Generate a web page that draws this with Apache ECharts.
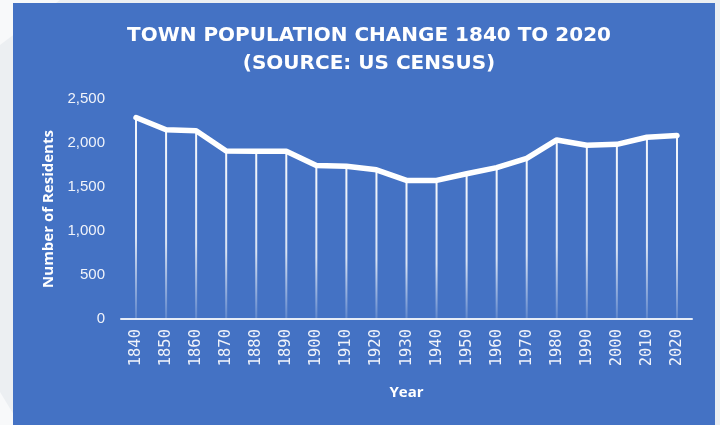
<!DOCTYPE html>
<html>
<head>
<meta charset="utf-8">
<script src="https://cdn.jsdelivr.net/npm/echarts@6/dist/echarts.min.js"></script>
<style>
  html, body { margin: 0; padding: 0; background: #ECEFF2; }
  #chart { width: 720px; height: 425px; }
</style>
</head>
<body>
<div id="chart"></div>
<script>
// Census years and town population counts
const years = ['1840','1850','1860','1870','1880','1890','1900','1910','1920','1930',
               '1940','1950','1960','1970','1980','1990','2000','2010','2020'];
const residents = [2290, 2150, 2140, 1910, 1905, 1905, 1745, 1735, 1695, 1575,
                   1575, 1650, 1720, 1825, 2035, 1975, 1985, 2065, 2085];
const yTicks = [0, 500, 1000, 1500, 2000, 2500];

const chart = echarts.init(document.getElementById('chart'), null, { renderer: 'canvas' });

const fmt = v => v.toLocaleString('en-US');

chart.setOption({
  animation: false,
  backgroundColor: '#ECEFF2',
  graphic: [
    // pale page decorations around the card
    { type: 'polygon', z: -10, shape: { points: [[0,0],[60,0],[0,45]] }, style: { fill: '#F8F9FA' } },
    { type: 'polygon', z: -10, shape: { points: [[0,392],[20,425],[0,425]] }, style: { fill: '#F8F9FA' } },
    // blue chart card
    { type: 'rect', z: -5, shape: { x: 13, y: 3, width: 702, height: 422 }, style: { fill: '#4472C4' } }
  ],
  title: {
    text: 'TOWN POPULATION CHANGE 1840 TO 2020\n(SOURCE: US CENSUS)',
    left: 364,
    textAlign: 'center',
    top: 17,
    textStyle: {
      color: '#FFFFFF',
      fontFamily: 'DejaVu Sans',
      fontWeight: 'bold',
      fontSize: 20,
      lineHeight: 28
    }
  },
  grid: { left: 121, right: 28, top: 99, bottom: 106, containLabel: false },
  xAxis: {
    type: 'category',
    data: years,
    boundaryGap: true,
    name: 'Year',
    nameLocation: 'middle',
    nameGap: 66,
    nameTextStyle: { color: '#FFFFFF', fontFamily: 'Open Sans', fontWeight: 'bold', fontSize: 15 },
    axisLine: { lineStyle: { color: '#E6ECF7', width: 2 } },
    axisTick: { show: false },
    axisLabel: {
      rotate: 90,
      margin: 10,
      color: '#F0F3FA',
      fontFamily: 'DejaVu Sans Mono',
      fontSize: 15.5,
      interval: 0
    },
    splitLine: { show: false }
  },
  yAxis: {
    type: 'value',
    min: 0,
    max: 2500,
    interval: 500,
    name: 'Number of Residents',
    nameLocation: 'middle',
    nameGap: 63,
    nameTextStyle: { color: '#FFFFFF', fontFamily: 'Open Sans', fontWeight: 'bold', fontSize: 15 },
    axisLine: { show: false },
    axisTick: { show: false },
    splitLine: { show: false },
    axisLabel: {
      color: '#F0F3FA',
      fontFamily: 'Liberation Sans',
      fontSize: 15,
      margin: 16,
      formatter: v => yTicks.includes(v) ? fmt(v) : ''
    }
  },
  series: [
    {
      // drop lines from each point to the axis
      type: 'bar',
      data: residents,
      barWidth: 2,
      silent: true,
      itemStyle: {
        color: new echarts.graphic.LinearGradient(0, 0, 0, 1, [
          { offset: 0, color: 'rgba(255,255,255,0.95)' },
          { offset: 0.6, color: 'rgba(255,255,255,0.8)' },
          { offset: 1, color: 'rgba(255,255,255,0.15)' }
        ])
      }
    },
    {
      type: 'line',
      data: residents,
      showSymbol: false,
      symbol: 'none',
      lineStyle: {
        color: '#FFFFFF',
        width: 5.5,
        cap: 'round',
        join: 'round'
      },
      z: 5
    }
  ]
});
</script>
</body>
</html>
